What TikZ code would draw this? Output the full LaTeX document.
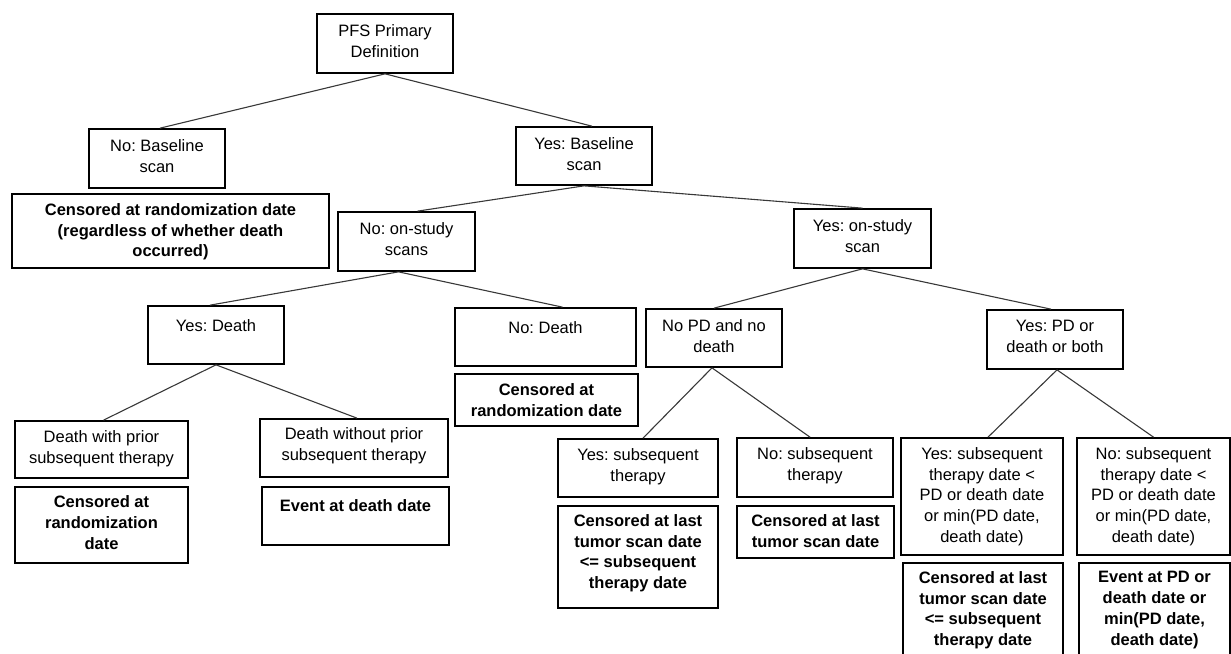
\documentclass[tikz,border=0pt]{standalone}
\usepackage{fontspec}
\setmainfont{Liberation Sans}
\frenchspacing
\begin{document}
\begin{tikzpicture}[x=1pt,y=-1pt,
  box/.style={draw=black, line width=1.7pt, inner sep=0pt},
  txt/.style={inner sep=0pt, align=center, anchor=north, text=black,
    font={\fontsize{16.5}{20.8}\selectfont\frenchspacing}},
  btxt/.style={txt, font={\fontsize{16.5}{20.8}\selectfont\bfseries\frenchspacing}},
  link/.style={draw=black!78, line width=1.1pt}]
\useasboundingbox (0,0) rectangle (1231,653);
% boxes: center x, center y, width, height
\newcommand{\bx}[5]{\node[box, minimum width=#4pt, minimum height=#5pt] (#1) at (#2,#3) {};}
\bx{pfs}{385}{43.5}{136}{59}
\bx{nobase}{157}{158.5}{136}{59}
\bx{censA}{170.5}{231}{317}{74}
\bx{yesbase}{584}{156}{136}{58}
\bx{nostudy}{406.5}{241.5}{137}{59}
\bx{yesstudy}{862.5}{238.5}{137}{59}
\bx{yesdeath}{216}{335}{136}{58}
\bx{nodeath}{545.5}{337}{181}{58}
\bx{censB}{546.5}{400}{183}{52}
\bx{nopd}{714}{338}{136}{58}
\bx{yespd}{1055}{339.5}{136}{59}
\bx{dwith}{101.5}{449.5}{173}{57}
\bx{censC}{101.5}{525}{173}{76}
\bx{dwithout}{354}{448}{188}{58}
\bx{eventA}{355.5}{516}{187}{58}
\bx{yessub}{638}{468}{160}{58}
\bx{censD}{638}{557}{160}{102}
\bx{nosub}{815}{467.5}{156}{59}
\bx{censE}{815.5}{532}{157}{52}
\bx{yessubd}{982}{496.5}{162}{117}
\bx{censF}{983}{614}{160}{102}
\bx{nosubd}{1153.5}{496.5}{153}{117}
\bx{eventB}{1154.5}{614}{151}{102}
% texts
\node[txt] (pfs-t) at ([yshift=-11pt]pfs.north) {PFS Primary\\Definition};
\node[txt] (nobase-t) at ([yshift=-11.5pt]nobase.north) {No: Baseline\\scan};
\node[btxt] (censA-t) at ([yshift=-10pt]censA.north) {Censored at randomization date\\(regardless of whether death\\occurred)};
\node[txt] (yesbase-t) at ([yshift=-11pt]yesbase.north) {Yes: Baseline\\scan};
\node[txt] (nostudy-t) at ([yshift=-11pt]nostudy.north) {No: on-study\\scans};
\node[txt] (yesstudy-t) at ([yshift=-11pt]yesstudy.north) {Yes: on-study\\scan};
\node[txt] (yesdeath-t) at ([yshift=-14pt]yesdeath.north) {Yes: Death};
\node[txt] (nodeath-t) at ([yshift=-14pt]nodeath.north) {No: Death};
\node[btxt] (censB-t) at ([yshift=-10pt]censB.north) {Censored at\\randomization date};
\node[txt] (nopd-t) at ([yshift=-11pt]nopd.north) {No PD and no\\death};
\node[txt] (yespd-t) at ([yshift=-11pt]yespd.north) {Yes: PD or\\death or both};
\node[txt] (dwith-t) at ([yshift=-10pt]dwith.north) {Death with prior\\subsequent therapy};
\node[btxt] (censC-t) at ([yshift=-9.5pt]censC.north) {Censored at\\randomization\\date};
\node[txt] (dwithout-t) at ([yshift=-9.5pt]dwithout.north) {Death without prior\\subsequent therapy};
\node[btxt] (eventA-t) at ([yshift=-13pt]eventA.north) {Event at death date};
\node[txt] (yessub-t) at ([yshift=-10.5pt]yessub.north) {Yes: subsequent\\therapy};
\node[btxt] (censD-t) at ([yshift=-9pt]censD.north) {Censored at last\\tumor scan date\\<= subsequent\\therapy date};
\node[txt] (nosub-t) at ([yshift=-10.5pt]nosub.north) {No: subsequent\\therapy};
\node[btxt] (censE-t) at ([yshift=-9pt]censE.north) {Censored at last\\tumor scan date};
\node[txt] (yessubd-t) at ([yshift=-10pt]yessubd.north) {Yes: subsequent\\therapy date <\\PD or death date\\or min(PD date,\\death date)};
\node[btxt] (censF-t) at ([yshift=-9pt]censF.north) {Censored at last\\tumor scan date\\<= subsequent\\therapy date};
\node[txt] (nosubd-t) at ([yshift=-10pt]nosubd.north) {No: subsequent\\therapy date <\\PD or death date\\or min(PD date,\\death date)};
\node[btxt] (eventB-t) at ([yshift=-9pt]eventB.north) {Event at PD or\\death date or\\min(PD date,\\death date)};
% connectors
\draw[link] (pfs.south) -- ([xshift=3pt]nobase.north);
\draw[link] (pfs.south) -- ([xshift=8pt]yesbase.north);
\draw[link] (yesbase.south) -- ([xshift=11pt]nostudy.north);
\draw[link] (yesbase.south) -- (yesstudy.north);
\draw[link] ([xshift=-8pt]nostudy.south) -- ([xshift=-6pt]yesdeath.north);
\draw[link] ([xshift=-8pt]nostudy.south) -- ([xshift=17pt]nodeath.north);
\draw[link] (yesstudy.south) -- (nopd.north);
\draw[link] (yesstudy.south) -- ([xshift=-4pt]yespd.north);
\draw[link] (yesdeath.south) -- ([xshift=2pt]dwith.north);
\draw[link] (yesdeath.south) -- ([xshift=3pt]dwithout.north);
\draw[link] ([xshift=-2pt]nopd.south) -- ([xshift=5pt]yessub.north);
\draw[link] ([xshift=-2pt]nopd.south) -- ([xshift=-5pt]nosub.north);
\draw[link] ([xshift=2pt]yespd.south) -- ([xshift=6pt]yessubd.north);
\draw[link] ([xshift=2pt]yespd.south) -- (nosubd.north);
\end{tikzpicture}
\end{document}
